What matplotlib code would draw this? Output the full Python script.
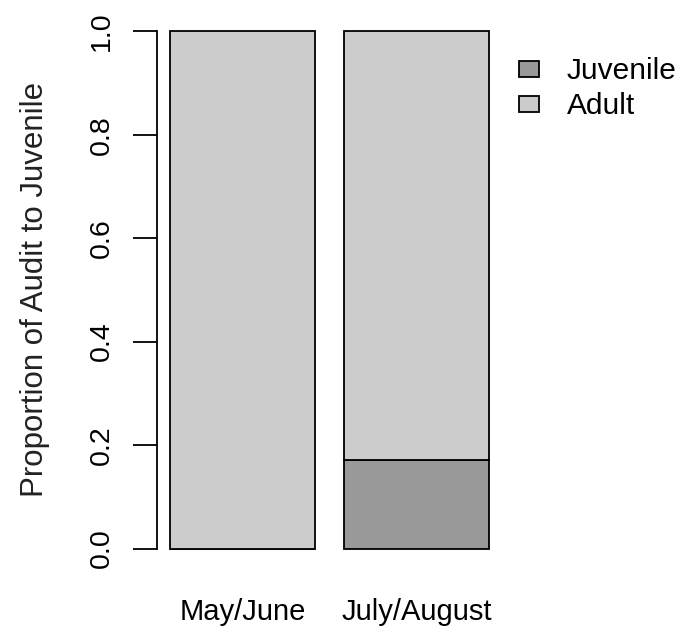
import matplotlib
matplotlib.use("Agg")
import matplotlib.pyplot as plt
from matplotlib.patches import Rectangle
import numpy as np

plt.rcParams['font.family'] = ['Liberation Sans', 'DejaVu Sans']

periods = ["May/June", "July/August"]
juvenile = [0.0, 0.172]
adult = [1.0, 0.828]
series_names = ["Juvenile", "Adult"]
series_colors = ["#999999", "#CCCCCC"]
y_ticks = [0.0, 0.2, 0.4, 0.6, 0.8, 1.0]

FS = 21

fig = plt.figure(figsize=(6.81, 6.33), dpi=100)
ax = fig.add_axes([157 / 681, 1 - 569.2 / 633, 345 / 681, 558.6 / 633])

width = 1.0
space = 0.2
lefts = np.array([space + i * (width + space) for i in range(len(periods))])
centers = lefts + width / 2

ax.bar(centers, juvenile, width=width, color=series_colors[0],
       edgecolor="black", linewidth=1.3)
ax.bar(centers, adult, width=width, bottom=juvenile, color=series_colors[1],
       edgecolor="black", linewidth=1.3)

x_lo, x_hi = lefts[0], lefts[-1] + width
pad = 0.04 * (x_hi - x_lo)
ax.set_xlim(x_lo - pad, x_hi + pad)
ax.set_ylim(-0.04, 1.04)

for s in ["top", "right", "bottom"]:
    ax.spines[s].set_visible(False)
ax.spines["left"].set_bounds(0, 1)
ax.spines["left"].set_linewidth(1.3)

ax.set_yticks(y_ticks)
ax.set_yticklabels([f"{v:.1f}" for v in y_ticks], rotation=90, va="center",
                   fontsize=FS - 0.5)
ax.tick_params(axis="y", length=17, width=1.3, pad=13)
ax.set_xticks(centers)
ax.set_xticklabels(periods, fontsize=FS)
ax.tick_params(axis="x", length=0, pad=21)
ax.set_ylabel("Proportion of Audit to Juvenile", fontsize=22.5, color="#222222",
              labelpad=28)

# legend drawn in figure pixel space
for i, (name, col) in enumerate(zip(series_names, series_colors)):
    yc = 633 - (69 + i * 35)
    fig.patches.append(Rectangle((519 / 681, (yc - 8) / 633), 20 / 681, 16 / 633,
                                 transform=fig.transFigure, facecolor=col,
                                 edgecolor="black", linewidth=1.3))
    fig.text(567 / 681, (yc - 2) / 633, name, fontsize=FS + 0.5, va="center",
             ha="left")

fig.savefig("out.png", dpi=100)
